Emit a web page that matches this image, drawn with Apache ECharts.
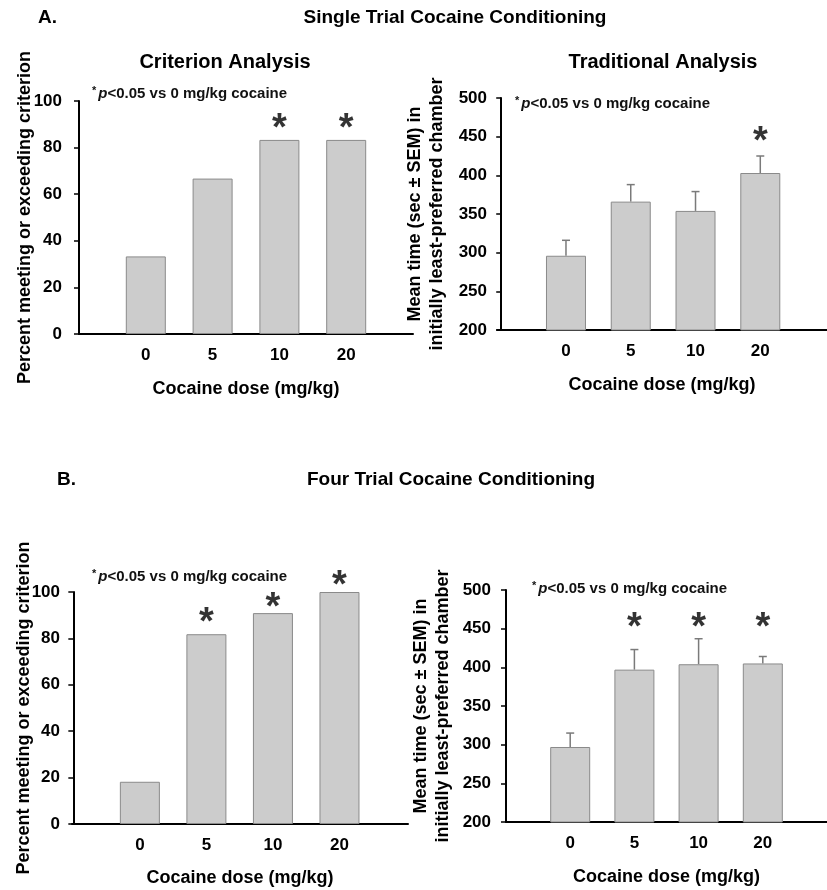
<!DOCTYPE html>
<html>
<head>
<meta charset="utf-8">
<script src="https://cdn.jsdelivr.net/npm/echarts@6/dist/echarts.min.js"></script>
<style>html,body{margin:0;padding:0;background:#fff}#c{width:827px;height:890px}</style>
</head>
<body>
<div id="c"></div>
<script>
// ---- data ----
const doses = ['0', '5', '10', '20'];
const critSingle = [33.3, 66.7, 83.3, 83.3];
const tradSingleMean = [296, 366, 354, 403];
const tradSingleSem = [20, 22, 25, 22];
const critFour = [18.2, 81.8, 90.9, 100];
const tradFourMean = [297, 397, 404, 405];
const tradFourSem = [18, 26, 33, 9];
// significance marker heights (in axis units)
const starCritSingle = [null, null, 91.8, 91.8];
const starTradSingle = [null, null, null, 454.7];
const starCritFour = [null, 90.2, 96.7, 106.2];
const starTradFour = [null, 461.6, 461.6, 461.6];
const yTicksPct = [0, 100, 20];
const yTicksTime = [200, 500, 50];

const FONT = '"Liberation Sans", Arial, sans-serif';
const chart = echarts.init(document.getElementById('c'), null, {renderer: 'canvas'});

const grids = [
  {left: 79, top: 101, width: 334, height: 233},
  {left: 497, top: 98, width: 340, height: 232},
  {left: 72, top: 592, width: 336, height: 232},
  {left: 506, top: 590, width: 334, height: 232}
];
const xRanges = [[0, 5], [-0.065, 5.03], [-0.02, 5.03], [0, 5.0]];

function xAxis(i, nameGap) {
  return {
    type: 'value', gridIndex: i, min: xRanges[i][0], max: xRanges[i][1],
    name: 'Cocaine dose (mg/kg)', nameLocation: 'middle', nameGap: nameGap, nameMoveOverlap: false,
    nameTextStyle: {fontFamily: FONT, fontWeight: 'bold', fontSize: 18, color: '#000'},
    axisLine: {lineStyle: {color: '#000', width: 2}},
    axisTick: {show: false}, splitLine: {show: false},
    axisLabel: {customValues: [1, 2, 3, 4], formatter: v => doses[Math.round(v) - 1] || '',
      fontFamily: FONT, fontWeight: 'bold', fontSize: 17, color: '#000', margin: 13}
  };
}
function yAxis(i, t, name, nameGap, labelMargin) {
  return {
    type: 'value', gridIndex: i, min: t[0], max: t[1], interval: t[2],
    name: name, nameLocation: 'middle', nameGap: nameGap, nameRotate: 90, nameMoveOverlap: false,
    nameTextStyle: {fontFamily: FONT, fontWeight: 'bold', fontSize: 18, color: '#000', lineHeight: 22},
    axisLine: {show: true, lineStyle: {color: '#000', width: 2}},
    axisTick: {show: true, length: 5, lineStyle: {color: '#000', width: 1.5}},
    splitLine: {show: false},
    axisLabel: {fontFamily: FONT, fontWeight: 'bold', fontSize: 17, color: '#000', margin: labelMargin}
  };
}
function bars(i, vals) {
  return {
    type: 'bar', xAxisIndex: i, yAxisIndex: i, barWidth: 40,
    data: vals.map((v, k) => [k + 1, v]),
    itemStyle: {color: '#cccccc', borderColor: '#8a8a8a', borderWidth: 1},
    silent: true, animation: false
  };
}
function errs(i, vals, sem) {
  return {
    type: 'custom', xAxisIndex: i, yAxisIndex: i, silent: true, animation: false,
    encode: {x: 0, y: 1},
    data: vals.map((v, k) => [k + 1, v, sem[k]]),
    renderItem: function (params, api) {
      const x = api.value(0), v = api.value(1), e = api.value(2);
      const p0 = api.coord([x, v]);
      const p1 = api.coord([x, v + e]);
      const st = {stroke: '#7a7a7a', lineWidth: 1.5};
      return {type: 'group', children: [
        {type: 'line', shape: {x1: p0[0], y1: p0[1], x2: p1[0], y2: p1[1]}, style: st},
        {type: 'line', shape: {x1: p1[0] - 4, y1: p1[1], x2: p1[0] + 4, y2: p1[1]}, style: st}
      ]};
    }
  };
}
function stars(i, arr) {
  return {
    type: 'scatter', xAxisIndex: i, yAxisIndex: i, silent: true, animation: false, clip: false,
    symbolSize: 1, itemStyle: {color: 'rgba(0,0,0,0)'},
    data: arr.map((v, k) => v == null ? null : [k + 1, v]).filter(d => d),
    label: {show: true, formatter: '*', position: 'inside', offset: [0, 9],
      fontFamily: FONT, fontWeight: 'bold', fontSize: 38, color: '#000'}
  };
}
function note(x, y) {
  return {
    type: 'text', left: x, top: y - 8,
    style: {
      text: '{a|*}{b|p}{c|<0.05 vs 0 mg/kg cocaine}',
      rich: {
        a: {fontFamily: FONT, fontWeight: 'bold', fontSize: 11, fill: '#111', verticalAlign: 'top', padding: [0, 2, 6, 0]},
        b: {fontFamily: FONT, fontWeight: 'bold', fontStyle: 'italic', fontSize: 15, fill: '#111'},
        c: {fontFamily: FONT, fontWeight: 'bold', fontSize: 15, fill: '#111'}
      }
    }
  };
}
function txt(x, y, s, size, align) {
  return {type: 'text', x: x, y: y,
    style: {text: s, fontFamily: FONT, fontWeight: 'bold', fontSize: size, fill: '#000',
      textAlign: align || 'center', textVerticalAlign: 'middle'}};
}

chart.setOption({
  animation: false,
  grid: grids,
  xAxis: [xAxis(0, 46), xAxis(1, 46), xAxis(2, 45), xAxis(3, 46)],
  yAxis: [
    yAxis(0, yTicksPct, 'Percent meeting or exceeding criterion', 43, 17),
    yAxis(1, yTicksTime, 'Mean time (sec \u00b1 SEM) in\ninitially least-preferred chamber', 49, 10),
    yAxis(2, yTicksPct, 'Percent meeting or exceeding criterion', 37, 12),
    yAxis(3, yTicksTime, 'Mean time (sec \u00b1 SEM) in\ninitially least-preferred chamber', 52, 15)
  ],
  series: [
    bars(0, critSingle), stars(0, starCritSingle),
    bars(1, tradSingleMean), errs(1, tradSingleMean, tradSingleSem), stars(1, starTradSingle),
    bars(2, critFour), stars(2, starCritFour),
    bars(3, tradFourMean), errs(3, tradFourMean, tradFourSem), stars(3, starTradFour)
  ],
  graphic: [
    txt(38, 18, 'A.', 19, 'left'),
    txt(455, 18, 'Single Trial Cocaine Conditioning', 19),
    txt(57, 480, 'B.', 19, 'left'),
    txt(451, 480, 'Four Trial Cocaine Conditioning', 19),
    txt(225, 62, 'Criterion Analysis', 20),
    txt(663, 62, 'Traditional Analysis', 20),
    note(92, 93), note(515, 103), note(92, 576), note(532, 588)
  ]
});
</script>
</body>
</html>
